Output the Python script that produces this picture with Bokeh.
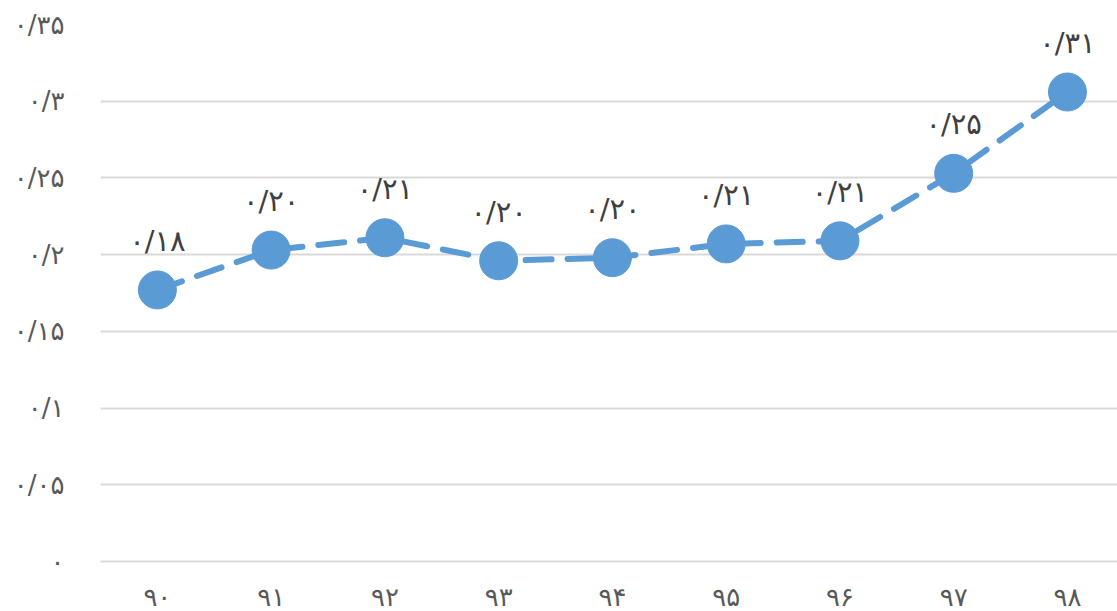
from bokeh.plotting import figure
from bokeh.models import ColumnDataSource, FixedTicker, Range1d
from bokeh.core.properties import value
from bokeh.embed import file_html
from bokeh.resources import INLINE

years = [90, 91, 92, 93, 94, 95, 96, 97, 98]
year_labels = ["۹۰", "۹۱", "۹۲", "۹۳", "۹۴", "۹۵", "۹۶", "۹۷", "۹۸"]
values = [0.177, 0.203, 0.211, 0.196, 0.198, 0.207, 0.209, 0.253, 0.306]
value_labels = ["۰/۱۸", "۰/۲۰", "۰/۲۱", "۰/۲۰", "۰/۲۰", "۰/۲۱", "۰/۲۱", "۰/۲۵", "۰/۳۱"]
y_ticks = [0, 0.05, 0.1, 0.15, 0.2, 0.25, 0.3, 0.35]
y_tick_labels = ["۰", "۰/۰۵", "۰/۱", "۰/۱۵", "۰/۲", "۰/۲۵", "۰/۳", "۰/۳۵"]

FONT = "DejaVu Sans"
BLUE = "#5b9bd5"

src = ColumnDataSource(dict(x=years, y=values, lab=value_labels))

p = figure(frame_width=1017, frame_height=537, output_backend="svg", toolbar_location=None,
           x_range=Range1d(89.5, 98.44), y_range=Range1d(0, 0.35),
           min_border_left=100, min_border_right=0, min_border_top=24, min_border_bottom=10)
p.outline_line_color = None
p.background_fill_color = "white"
p.border_fill_color = "white"

p.line("x", "y", source=src, line_color=BLUE, line_width=6, line_dash="26 16", line_cap="round")
p.scatter("x", "y", source=src, size=38, fill_color=BLUE, line_color=BLUE)
p.text("x", "y", text="lab", source=src, y_offset=-49, text_align="center", text_baseline="middle",
       text_font=value(FONT), text_font_size="29px", text_color="#404040")

p.xaxis.ticker = FixedTicker(ticks=years)
p.xaxis.major_label_overrides = {y: l for y, l in zip(years, year_labels)}
p.yaxis.ticker = FixedTicker(ticks=y_ticks)
p.yaxis.major_label_overrides = {t: l for t, l in zip(y_ticks, y_tick_labels)}

for ax in (p.xaxis, p.yaxis):
    ax.major_tick_line_color = None
    ax.minor_tick_line_color = None
    ax.major_label_text_font = FONT
    ax.major_label_text_font_size = "26px"
    ax.major_label_text_color = "#595959"
p.yaxis.axis_line_color = None
p.xaxis.axis_line_color = "#d9d9d9"
p.xaxis.axis_line_width = 2
p.yaxis.major_label_standoff = 30
p.xaxis.major_label_standoff = 14

p.xgrid.grid_line_color = None
p.ygrid.grid_line_color = "#d9d9d9"
p.ygrid.grid_line_width = 2

open("out.html", "w").write(file_html(p, INLINE))
